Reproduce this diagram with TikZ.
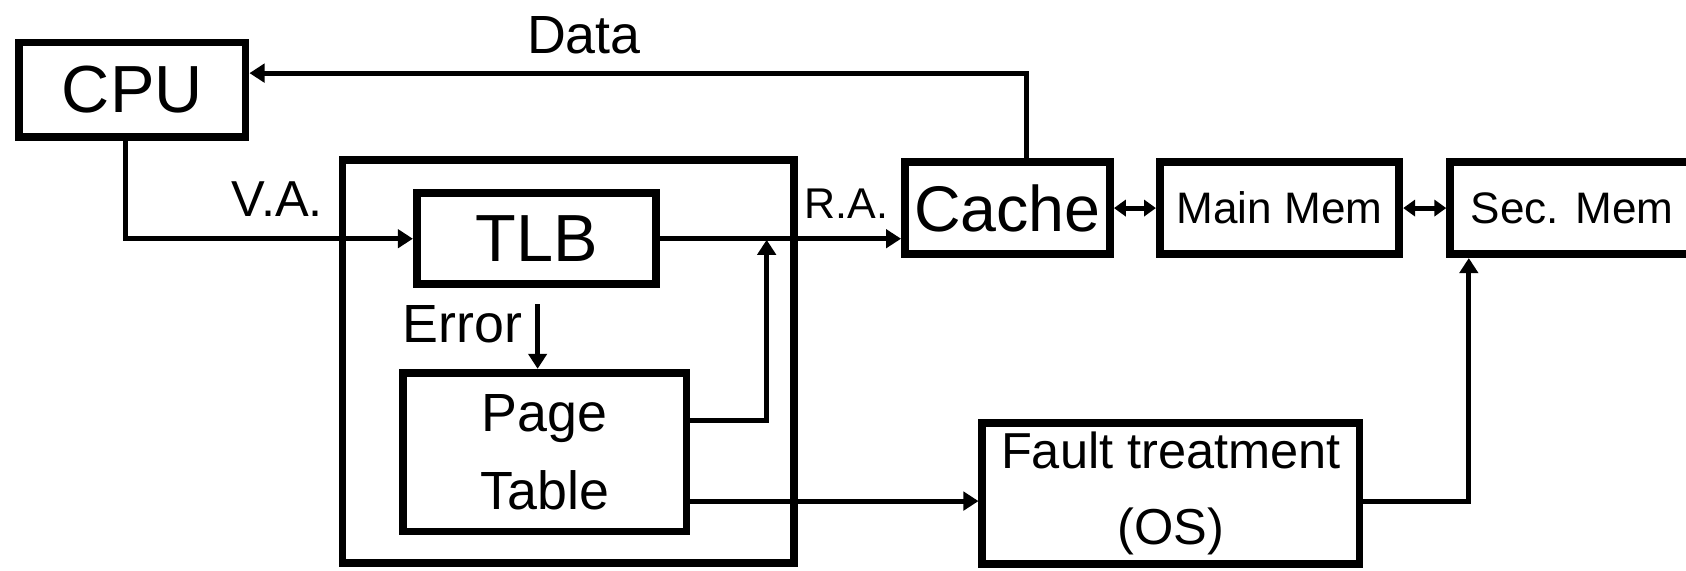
\documentclass[tikz,border=0pt]{standalone}
\usepackage{fontspec}
\setmainfont{Liberation Sans}
\usetikzlibrary{arrows.meta}
\begin{document}
\begin{tikzpicture}[x=0.5pt,y=-0.5pt,
  box/.style={draw, line width=3.6pt, inner sep=0pt, align=center},
  lbl/.style={inner sep=0pt},
  conn/.style={line width=2.3pt},
  arr/.style={conn, -{Triangle[length=7pt,width=8.5pt]}},
  darr/.style={conn, {Triangle[length=5.5pt,width=7.5pt]}-{Triangle[length=5.5pt,width=7.5pt]}}
]
\useasboundingbox (0,0) rectangle (1568,531);

% boxes
\node[box, minimum width=105.4pt, minimum height=43.9pt, font=\fontsize{31}{37}\selectfont] (CPU) at (123,83.5) {CPU};
\node[box, minimum width=209.9pt, minimum height=187.4pt] (MMU) at (528.5,336) {};
\node[box, minimum width=111.4pt, minimum height=42.4pt, font=\fontsize{31}{37}\selectfont] (TLB) at (499,222) {TLB};
\node[box, minimum width=131.9pt, minimum height=73.9pt, font=\fontsize{25}{36}\selectfont] (PT) at (506.5,420.5) {Page\\Table};
\node[box, minimum width=95.4pt, minimum height=42.9pt, font=\fontsize{30}{36}\selectfont] (Cache) at (937,193.5) {Cache};
\node[box, minimum width=111.4pt, minimum height=42.9pt, font=\fontsize{20.5}{25}\selectfont] (Main) at (1190,193.5) {Main Mem};
\node[box, minimum width=113.4pt, minimum height=42.9pt, font=\fontsize{20.5}{25}\selectfont] (Sec) at (1462,193.5) {Sec. Mem};
\node[box, minimum width=175.4pt, minimum height=65.4pt, font=\fontsize{23.5}{35}\selectfont] (Fault) at (1089,459) {Fault treatment\\(OS)};

% labels
\node[lbl, font=\fontsize{25}{30}\selectfont] (data) at (543,33) {Data};
\node[lbl, font=\fontsize{23.5}{28}\selectfont] (va) at (258,185) {V.A.};
\node[lbl, font=\fontsize{25}{30}\selectfont] (err) at (430,302) {Error};
\node[lbl, font=\fontsize{20}{24}\selectfont] (ra) at (787,189) {R.A.};

% connectors
\draw[arr] (Cache.north -| 955,0) |- (CPU.east |- 0,68);
\draw[arr] (CPU.south -| 117,0) |- (TLB.west);
\draw[arr] (TLB.east) -- (TLB.east -| Cache.west);
\coordinate (estart) at (500,283);
\draw[arr] (estart) -- (estart |- PT.north);
\coordinate (join) at (713,223);
\draw[arr] (PT.east |- 0,391) -| (join);
\draw[arr] (PT.east |- 0,466) -- (Fault.west |- 0,466);
\draw[arr] (Fault.east |- 0,466) -| (Sec.south -| 1366,0);
\draw[darr] (Cache.east) -- (Main.west);
\draw[darr] (Main.east) -- (Sec.west);
\end{tikzpicture}
\end{document}
